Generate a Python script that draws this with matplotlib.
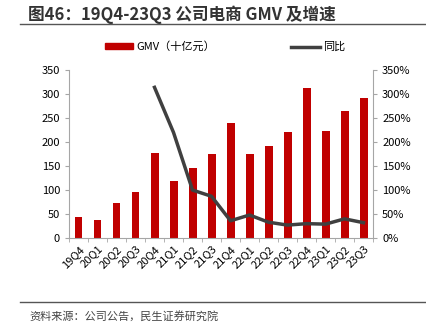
import numpy as np
import matplotlib
matplotlib.use('Agg')
import matplotlib.pyplot as plt
from matplotlib.lines import Line2D
from matplotlib.patches import Patch

plt.rcParams['font.family'] = ['Noto Sans CJK SC', 'DejaVu Sans']

# data
quarters = ['19Q4', '20Q1', '20Q2', '20Q3', '20Q4', '21Q1', '21Q2', '21Q3',
            '21Q4', '22Q1', '22Q2', '22Q3', '22Q4', '23Q1', '23Q2', '23Q3']
gmv = [43, 37, 73, 95, 178, 119, 145, 176, 240, 175, 192, 222, 312, 224, 265, 291]
yoy = [np.nan, np.nan, np.nan, np.nan, 314, 220, 100, 87, 36, 48, 33, 27, 30, 29, 40, 32]

red = '#C00000'
gray = '#404040'
axis_gray = '#A6A6A6'

fig = plt.figure(figsize=(4.27, 3.23), dpi=100)
ax = fig.add_axes([0.1616, 0.263, 0.712, 0.52])
x = np.arange(len(quarters))
ax.bar(x, gmv, width=0.42, color=red, zorder=2)
ax.set_xlim(-0.5, len(quarters) - 0.5)
ax.set_ylim(0, 350)
ax.set_yticks(np.arange(0, 351, 50))
ax.set_xticks(x)
ax.set_xticklabels(quarters, rotation=45, ha='right', rotation_mode='anchor', fontsize=8)
ax.set_xticks(np.arange(-0.5, len(quarters)), minor=True)
ax.tick_params(axis='x', which='major', length=0, pad=4)
ax.tick_params(axis='x', which='minor', length=3, color=axis_gray)
ax.tick_params(axis='y', labelsize=8, length=3, color=axis_gray)
for s in ['top', 'right']:
    ax.spines[s].set_visible(False)
ax.spines['left'].set_color(axis_gray)
ax.spines['bottom'].set_color(axis_gray)

ax2 = ax.twinx()
ax2.plot(x, yoy, color=gray, lw=2.5, zorder=3)
ax2.set_ylim(0, 350)
ax2.set_yticks(np.arange(0, 351, 50))
ax2.set_yticklabels([f'{v}%' for v in range(0, 351, 50)])
ax2.tick_params(axis='y', labelsize=8, length=3, color=axis_gray)
for s in ['top', 'left', 'bottom']:
    ax2.spines[s].set_visible(False)
ax2.spines['right'].set_color(axis_gray)

handles = [Patch(color=red), Line2D([0], [0], color=gray, lw=2.5)]
fig.legend(handles, ['GMV（十亿元）', '同比'], loc='center', bbox_to_anchor=(0.527, 0.855),
           ncol=2, frameon=False, fontsize=8, columnspacing=6.8, handlelength=2.6,
           handleheight=0.5, handletextpad=0.3)

fig.text(0.066, 0.953, '图46：19Q4-23Q3 公司电商 GMV 及增速', fontsize=12,
         fontweight='bold', color='#333333', va='center')
fig.add_artist(Line2D([0.047, 1.0], [0.925, 0.925], color='#555555', lw=1))
fig.add_artist(Line2D([0.047, 1.0], [0.065, 0.065], color='#555555', lw=1))
fig.text(0.068, 0.022, '资料来源：公司公告，民生证券研究院', fontsize=8, color='#444444', va='center')

fig.savefig('out.png', dpi=100)
